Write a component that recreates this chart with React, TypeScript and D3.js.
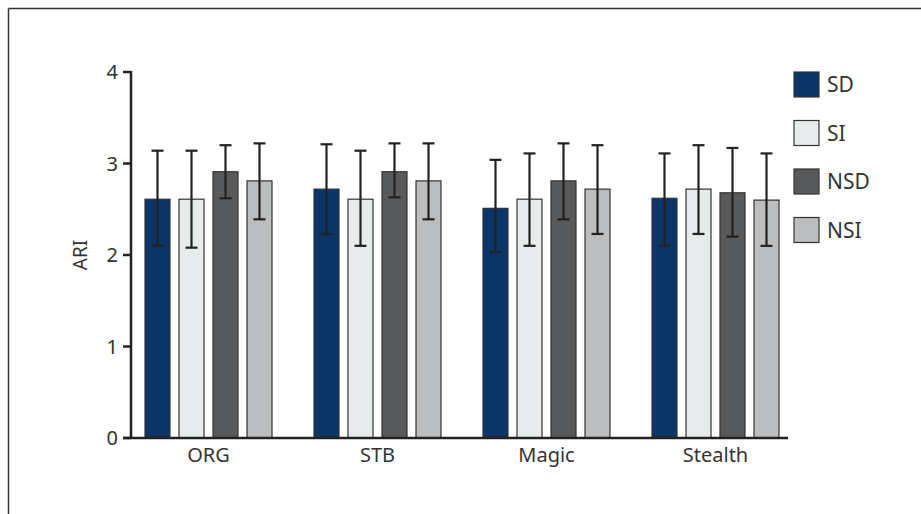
import React from "react";
import { scaleBand, scaleLinear } from "d3";

// ARI by condition
const categories = ["ORG", "STB", "Magic", "Stealth"];
const series = ["SD", "SI", "NSD", "NSI"];
const colors = ["#0a3566", "#e8ebec", "#58595b", "#bcbdbf"];

// mean, lower and upper error bar ends, one row per category (SD, SI, NSD, NSI)
const means = [
  [2.61, 2.61, 2.91, 2.81],
  [2.72, 2.61, 2.91, 2.81],
  [2.51, 2.61, 2.81, 2.72],
  [2.62, 2.72, 2.68, 2.6],
];
const lower = [
  [2.1, 2.08, 2.62, 2.39],
  [2.23, 2.1, 2.63, 2.39],
  [2.03, 2.1, 2.39, 2.23],
  [2.1, 2.23, 2.2, 2.1],
];
const upper = [
  [3.14, 3.14, 3.2, 3.22],
  [3.21, 3.14, 3.22, 3.22],
  [3.04, 3.11, 3.22, 3.2],
  [3.11, 3.2, 3.17, 3.11],
];
const yTicks = [0, 1, 2, 3, 4];

const width = 921;
const height = 514;
const font = "'Noto Sans', 'Open Sans', sans-serif";

const App = () => {
  const y = scaleLinear().domain([0, 4]).range([438, 72]);

  // outer band for categories, inner band for the four bars
  const x0 = scaleBand().domain(categories).range([124, 800]);
  const x1 = scaleBand()
    .domain(series)
    .range([0, 127])
    .paddingInner(0.265)
    .paddingOuter(0);
  const groupOffset = (x0.bandwidth() - 127) / 2;
  const capHalf = 6;

  return (
    <svg
      width={width}
      height={height}
      style={{ position: "absolute", left: 0, top: 0, background: "#fff" }}
    >
      {/* frame */}
      <line x1={8.5} x2={width} y1={8.5} y2={8.5} stroke="#333" strokeWidth={1.5} />
      <line x1={8.5} x2={8.5} y1={8.5} y2={height} stroke="#333" strokeWidth={1.5} />

      {/* bars */}
      {categories.map((cat, ci) => (
        <g key={cat} transform={`translate(${x0(cat)! + groupOffset},0)`}>
          {series.map((s, si) => (
            <rect
              key={s}
              x={x1(s)}
              y={y(means[ci][si])}
              width={x1.bandwidth()}
              height={y(0) - y(means[ci][si])}
              fill={colors[si]}
              stroke="#333"
              strokeWidth={1.2}
            />
          ))}
          {series.map((s, si) => {
            const cx = x1(s)! + x1.bandwidth() / 2;
            return (
              <g key={s} stroke="#222" strokeWidth={2.2}>
                <line x1={cx} x2={cx} y1={y(lower[ci][si])} y2={y(upper[ci][si])} />
                <line x1={cx - capHalf} x2={cx + capHalf} y1={y(upper[ci][si])} y2={y(upper[ci][si])} />
                <line x1={cx - capHalf} x2={cx + capHalf} y1={y(lower[ci][si])} y2={y(lower[ci][si])} />
              </g>
            );
          })}
          <text
            x={x0.bandwidth() / 2 - groupOffset}
            y={462}
            textAnchor="middle"
            fontFamily={font}
            fontSize={20}
            fill="#333"
          >
            {cat}
          </text>
        </g>
      ))}

      {/* axes */}
      <line x1={123} x2={788} y1={y(0)} y2={y(0)} stroke="#222" strokeWidth={2.5} />
      <line x1={131} x2={131} y1={y(4) - 1} y2={y(0)} stroke="#222" strokeWidth={2.5} />
      {yTicks.map((t) => (
        <g key={t}>
          <line x1={123} x2={131} y1={y(t)} y2={y(t)} stroke="#222" strokeWidth={2.5} />
          <text
            x={118}
            y={y(t)}
            dy="0.35em"
            textAnchor="end"
            fontFamily={font}
            fontSize={20}
            fill="#333"
          >
            {t}
          </text>
        </g>
      ))}
      <text
        transform={`translate(80,${y(2)}) rotate(-90)`}
        textAnchor="middle"
        dy="0.35em"
        fontFamily={font}
        fontSize={19}
        fill="#333"
      >
        ARI
      </text>

      {/* legend */}
      {series.map((s, si) => (
        <g key={s} transform={`translate(794,${72 + si * 48.5})`}>
          <rect width={25} height={25} fill={colors[si]} stroke="#333" strokeWidth={1.2} />
          <text x={33} y={12.5} dy="0.36em" fontFamily={font} fontSize={21} fill="#333">
            {s}
          </text>
        </g>
      ))}
    </svg>
  );
};

export default App;
